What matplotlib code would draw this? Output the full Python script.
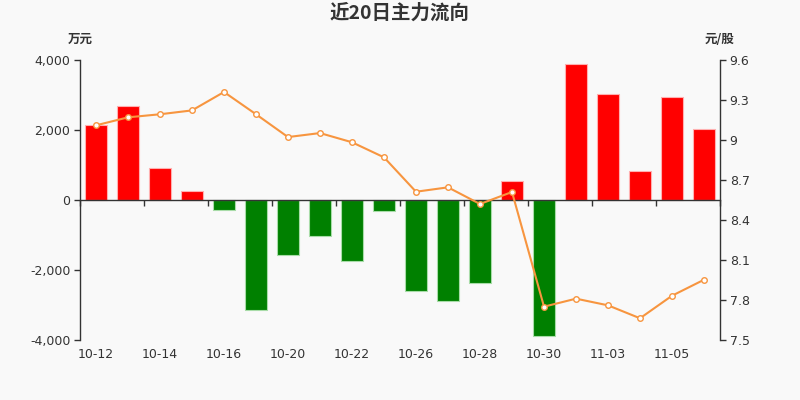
import matplotlib
matplotlib.use("Agg")
import matplotlib.pyplot as plt
import numpy as np

dates = ["10-12", "10-13", "10-14", "10-15", "10-16", "10-19", "10-20", "10-21", "10-22", "10-23",
         "10-26", "10-27", "10-28", "10-29", "10-30", "11-02", "11-03", "11-04", "11-05", "11-06"]
flows = [2134, 2695, 905, 257, -277, -3134, -1581, -1038, -1743, -305,
         -2600, -2895, -2371, 543, -3895, 3877, 3029, 829, 2933, 2029]
prices = [9.11, 9.17, 9.193, 9.222, 9.36, 9.193, 9.022, 9.052, 8.983, 8.87,
          8.612, 8.645, 8.52, 8.61, 7.75, 7.81, 7.76, 7.663, 7.832, 7.952]
left_ticks = [-4000, -2000, 0, 2000, 4000]
right_ticks = [7.5, 7.8, 8.1, 8.4, 8.7, 9.0, 9.3, 9.6]

BG = "#f9f9f9"
TXT = "#333333"
fam = ["DejaVu Sans", "Noto Sans CJK SC"]
cjk = ["Noto Sans CJK SC", "DejaVu Sans"]

fig = plt.figure(figsize=(8, 4), dpi=100, facecolor=BG)
ax = fig.add_axes([0.1, 0.15, 0.8, 0.7], facecolor=BG)
x = np.arange(len(dates))
colors = ["#ff0000" if v >= 0 else "#008000" for v in flows]
edges = ["#ffb0b0" if v >= 0 else "#a8dca8" for v in flows]
ax.bar(x, flows, width=0.7, color=colors, edgecolor=edges, linewidth=0.8, zorder=2)
ax.set_xlim(-0.5, len(dates) - 0.5)
ax.set_ylim(-4000, 4000)
ax.set_yticks(left_ticks)
ax.set_yticklabels([f"{v:,}" for v in left_ticks], family=fam, fontsize=9, color=TXT)

for s in ["top", "right"]:
    ax.spines[s].set_visible(False)
ax.spines["left"].set_color(TXT)
ax.spines["left"].set_linewidth(1)
ax.spines["bottom"].set_position(("data", 0))
ax.spines["bottom"].set_color(TXT)
ax.spines["bottom"].set_linewidth(1)
ax.set_xticks(np.arange(-0.5, len(dates), 2))
ax.set_xticklabels([])
ax.tick_params(axis="x", direction="out", length=4, color=TXT, width=1)
ax.tick_params(axis="y", direction="out", length=4, color=TXT, width=1, pad=3)

sec = ax.secondary_xaxis(0)
sec.set_xticks(x[::2])
sec.set_xticklabels(dates[::2], family=fam, fontsize=9, color=TXT)
sec.tick_params(length=0, pad=6)
sec.spines["bottom"].set_visible(False)

ax2 = ax.twinx()
ax2.plot(x, prices, color="#f7953f", linewidth=1.5, marker="o", markersize=4,
         markerfacecolor="white", markeredgecolor="#f7953f", markeredgewidth=1, zorder=3)
ax2.set_ylim(7.5, 9.6)
ax2.set_yticks(right_ticks)
ax2.set_yticklabels([f"{v:g}" for v in right_ticks], family=fam, fontsize=9, color=TXT)
for s in ["top", "left", "bottom"]:
    ax2.spines[s].set_visible(False)
ax2.spines["right"].set_color(TXT)
ax2.spines["right"].set_linewidth(1)
ax2.tick_params(axis="y", direction="out", length=4, color=TXT, width=1, pad=3)

fig.text(0.5, 0.967, "近20日主力流向", ha="center", va="center", family=cjk,
         fontsize=14, fontweight="bold", color=TXT)
fig.text(0.1, 0.902, "万元", ha="center", va="center", family=cjk,
         fontsize=9, fontweight="bold", color=TXT)
fig.text(0.9, 0.902, "元/股", ha="center", va="center", family=cjk,
         fontsize=9, fontweight="bold", color=TXT)

fig.savefig("out.png", dpi=100, facecolor=BG)
